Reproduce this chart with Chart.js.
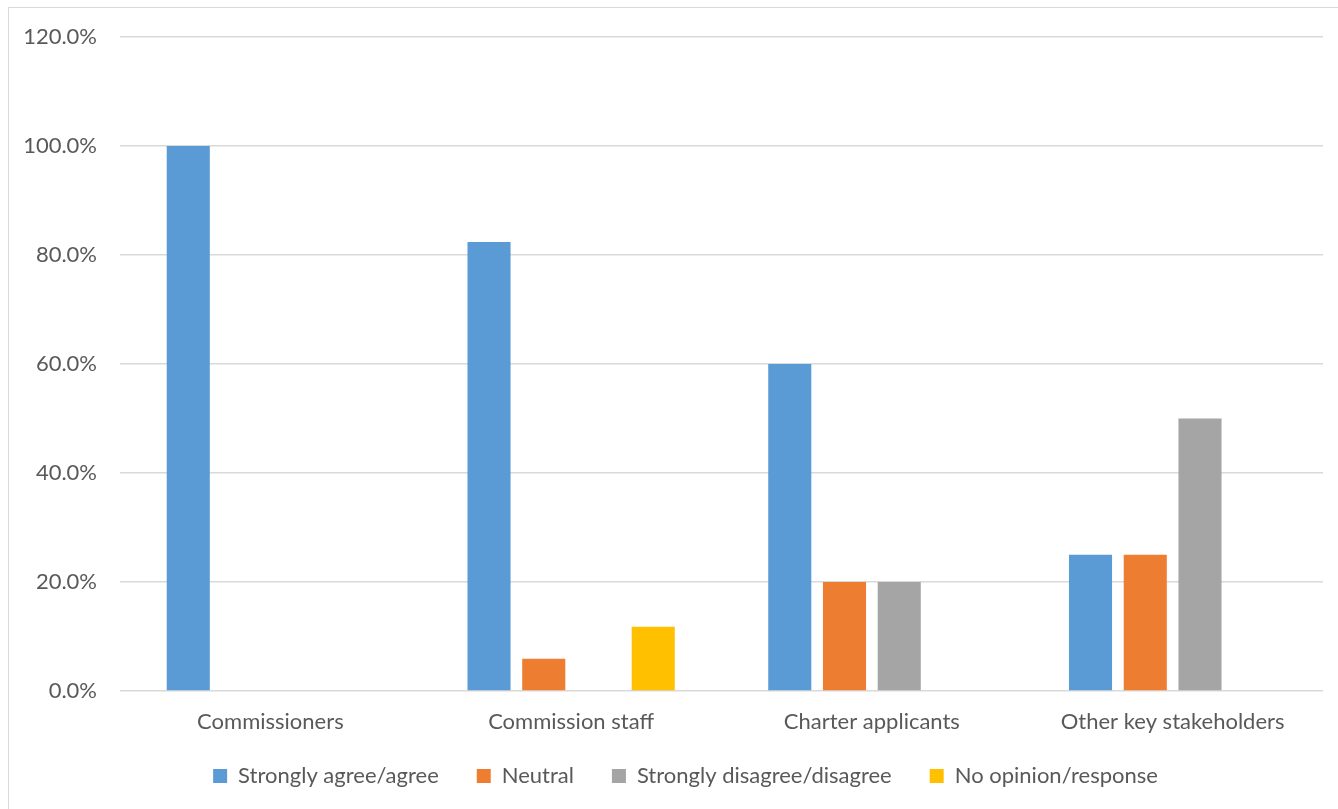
<!DOCTYPE html>
<html>
<head>
<meta charset="utf-8">
<script src="https://cdn.jsdelivr.net/npm/chart.js@4"></script>
<style>
  body { margin: 0; background: #fff; }
  #wrap { position: relative; width: 1338px; height: 809px; overflow: hidden; }
  #frame { position: absolute; left: 8px; top: 7px; width: 1340px; height: 810px; border: 1px solid #d9d9d9; }
  canvas { position: absolute; left: 0; top: 0; }
</style>
</head>
<body>
<div id="wrap">
  <div id="frame"></div>
  <canvas id="surveyChart" width="1338" height="809"></canvas>
</div>
<script>
// categories and series (percent)
const categories = ['Commissioners', 'Commission staff', 'Charter applicants', 'Other key stakeholders'];
const agree = [100, 82.4, 60, 25];
const neutral = [0, 5.9, 20, 25];
const disagree = [0, 0, 20, 50];
const noOpinion = [0, 11.8, 0, 0];
const yTicks = [0, 20, 40, 60, 80, 100, 120];

const textColor = '#595959';
const fontFamily = 'Lato, "Open Sans", sans-serif';

// fixed legend height, then nudge the legend to where the original has it
const legendPlacement = {
    id: 'legendPlacement',
    beforeInit(chart) {
        const fit = chart.legend.fit;
        chart.legend.fit = function() {
            fit.bind(chart.legend)();
            this.height = 74;
        };
    },
    afterLayout(chart) {
        const legend = chart.legend;
        legend.left += 24;
        legend.right += 24;
        legend.top -= 8;
        legend.bottom -= 8;
    }
};

const ctx = document.getElementById('surveyChart').getContext('2d');
const surveyChart = new Chart(ctx, {
    type: 'bar',
    data: {
        labels: categories,
        datasets: [
            { label: 'Strongly agree/agree', data: agree, backgroundColor: '#5B9BD5' },
            { label: 'Neutral', data: neutral, backgroundColor: '#ED7D31' },
            { label: 'Strongly disagree/disagree', data: disagree, backgroundColor: '#A5A5A5' },
            { label: 'No opinion/response', data: noOpinion, backgroundColor: '#FFC000' }
        ]
    },
    options: {
        responsive: false,
        animation: false,
        categoryPercentage: 0.728,
        barPercentage: 0.787,
        layout: {
            padding: { left: 0, right: 15, top: 37, bottom: 0 }
        },
        scales: {
            x: {
                afterFit: function(scale) { scale.height = 44; },
                grid: { display: false, drawTicks: false },
                border: { display: false },
                ticks: { color: textColor, font: { family: fontFamily, size: 22 }, padding: 18 }
            },
            y: {
                min: 0,
                max: 120,
                afterFit: function(scale) { scale.width = 120; },
                afterBuildTicks: function(scale) { scale.ticks = yTicks.map(v => ({ value: v })); },
                grid: { color: '#d9d9d9', lineWidth: 1.5, drawTicks: false },
                border: { display: false },
                ticks: {
                    color: textColor,
                    font: { family: fontFamily, size: 22 },
                    padding: 23,
                    callback: function(value) { return value.toFixed(1) + '%'; }
                }
            }
        },
        plugins: {
            legend: {
                position: 'bottom',
                labels: {
                    color: textColor,
                    font: { family: fontFamily, size: 22 },
                    boxWidth: 14,
                    boxHeight: 14,
                    padding: 38
                }
            },
            tooltip: { enabled: false }
        }
    },
    plugins: [legendPlacement]
});
</script>
</body>
</html>
